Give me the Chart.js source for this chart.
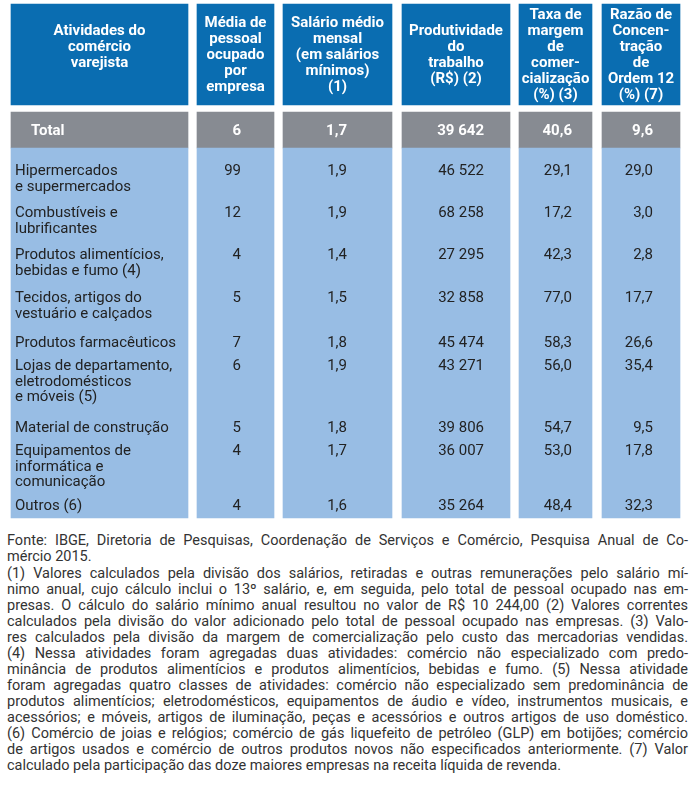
<!DOCTYPE html>
<html lang="pt-BR">
<head>
<meta charset="UTF-8">
<title>Comércio varejista 2015</title>
<script src="https://cdn.jsdelivr.net/npm/chart.js"></script>
<style>
    body { margin: 0; background: #fff; }
    #tabela { position: absolute; left: 0; top: 0; display: block; }
    .notas {
        position: absolute; left: 7px; top: 533px; width: 681px;
        font-family: Roboto, sans-serif; font-size: 14.5px; line-height: 16px; color: #333;
    }
    .notas p { margin: 0 0 1px 0; }
    .notas span { display: block; white-space: nowrap; text-align: justify; text-align-last: justify; }
    .notas span.fim { text-align-last: left; }
</style>
</head>
<body>
<canvas id="tabela" width="694" height="525"></canvas>

<div class="notas">
    <p>
        <span>Fonte: IBGE, Diretoria de Pesquisas, Coordenação de Serviços e Comércio, Pesquisa Anual de Co-</span>
        <span class="fim">mércio 2015.</span>
    </p>
    <p>
        <span>(1) Valores calculados pela divisão dos salários, retiradas e outras remunerações pelo salário mí-</span>
        <span>nimo anual, cujo cálculo inclui o 13º salário, e, em seguida, pelo total de pessoal ocupado nas em-</span>
        <span>presas. O cálculo do salário mínimo anual resultou no valor de R$ 10 244,00 (2) Valores correntes</span>
        <span>calculados pela divisão do valor adicionado pelo total de pessoal ocupado nas empresas. (3) Valo-</span>
        <span>res calculados pela divisão da margem de comercialização pelo custo das mercadorias vendidas.</span>
        <span>(4) Nessa atividades foram agregadas duas atividades: comércio não especializado com predo-</span>
        <span>minância de produtos alimentícios e produtos alimentícios, bebidas e fumo. (5) Nessa atividade</span>
        <span>foram agregadas quatro classes de atividades: comércio não especializado sem predominância de</span>
        <span>produtos alimentícios; eletrodomésticos, equipamentos de áudio e vídeo, instrumentos musicais, e</span>
        <span>acessórios; e móveis, artigos de iluminação, peças e acessórios e outros artigos de uso doméstico.</span>
        <span>(6) Comércio de joias e relógios; comércio de gás liquefeito de petróleo (GLP) em botijões; comércio</span>
        <span>de artigos usados e comércio de outros produtos novos não especificados anteriormente. (7) Valor</span>
        <span class="fim">calculado pela participação das doze maiores empresas na receita líquida de revenda.</span>
    </p>
</div>

<script>
    // Cabeçalhos das colunas (quebras de linha como no original)
    const cabecalhos = [
        "Atividades do\ncomércio\nvarejista\n",
        "Média de\npessoal\nocupado\npor\nempresa",
        "Salário médio\nmensal\n(em salários\nmínimos)\n(1)",
        "Produtividade\ndo\ntrabalho\n(R$) (2)",
        "Taxa de\nmargem\nde\ncomer-\ncialização\n(%) (3)",
        "Razão de\nConcen-\ntração\nde\nOrdem 12\n(%) (7)"
    ];

    const rotuloTotal = "Total";
    const totais = [6, 1.7, 39642, 40.6, 9.6];

    const atividades = [
        "Hipermercados\ne supermercados",
        "Combustíveis e\nlubrificantes",
        "Produtos alimentícios,\nbebidas e fumo (4)",
        "Tecidos, artigos do\nvestuário e calçados",
        "Produtos farmacêuticos",
        "Lojas de departamento,\neletrodomésticos\ne móveis (5)",
        "Material de construção",
        "Equipamentos de\ninformática e\ncomunicação",
        "Outros (6)"
    ];

    const pessoal       = [99, 12, 4, 5, 7, 6, 5, 4, 4];
    const salario       = [1.9, 1.9, 1.4, 1.5, 1.8, 1.9, 1.8, 1.7, 1.6];
    const produtividade = [46522, 68258, 27295, 32858, 45474, 43271, 39806, 36007, 35264];
    const margem        = [29.1, 17.2, 42.3, 77.0, 58.3, 56.0, 54.7, 53.0, 48.4];
    const concentracao  = [29.0, 3.0, 2.8, 17.7, 26.6, 35.4, 9.5, 17.8, 32.3];

    const colunasValores = [pessoal, salario, produtividade, margem, concentracao];
    const casasDecimais  = [0, 1, 0, 1, 1];

    // Layout (em pixels da escala)
    const bordasColunas = [[11, 188], [197, 274], [283, 392], [402, 510], [519, 592], [602, 680]];
    const faixas = [[4, 105], [112, 148], [148, 518]];   // cabeçalho, total, corpo
    const coresFaixas = ['#0a6db1', '#878b92', '#98bde4'];
    const alinhaDireita = [241, 347, 484, 572, 653];
    const linhasBase = [175, 217, 259, 302, 347, 370, 432, 455, 510];

    function formata(v, dec) {
        const s = v.toFixed(dec).replace('.', ',');
        return s.replace(/\B(?=(\d{3})+(?!\d))/g, ' ');
    }

    // uma coluna = um dataset; uma barra flutuante por faixa
    const datasets = bordasColunas.map(([a, b]) => ({
        data: faixas.map(f => ({ x: (a + b) / 2, y: f })),
        backgroundColor: coresFaixas,
        barThickness: b - a,
        grouped: false,
        borderWidth: 0
    }));

    const textoTabela = {
        id: 'textoTabela',
        afterDatasetsDraw(chart) {
            const { ctx, scales: { x, y } } = chart;
            ctx.save();

            // cabeçalho
            ctx.fillStyle = '#ffffff';
            ctx.font = 'bold 15px Roboto';
            ctx.textAlign = 'center';
            ctx.textBaseline = 'middle';
            const meioCab = (faixas[0][0] + faixas[0][1]) / 2 + 0.5;
            cabecalhos.forEach((txt, c) => {
                const linhas = txt.split('\n');
                const cx = x.getPixelForValue((bordasColunas[c][0] + bordasColunas[c][1]) / 2);
                linhas.forEach((ln, i) => {
                    ctx.fillText(ln, cx, y.getPixelForValue(meioCab + (i - (linhas.length - 1) / 2) * 16));
                });
            });

            // linha total
            ctx.font = 'bold 15px Roboto';
            const meioTotal = (faixas[1][0] + faixas[1][1]) / 2 + 1;
            ctx.textAlign = 'left';
            ctx.fillText(rotuloTotal, x.getPixelForValue(bordasColunas[0][0] + 20), y.getPixelForValue(meioTotal));
            ctx.textAlign = 'right';
            totais.forEach((v, c) => {
                ctx.fillText(formata(v, casasDecimais[c]), x.getPixelForValue(alinhaDireita[c]), y.getPixelForValue(meioTotal));
            });

            // corpo
            ctx.fillStyle = '#222222';
            ctx.font = '15px Roboto';
            ctx.textBaseline = 'alphabetic';
            atividades.forEach((txt, r) => {
                ctx.textAlign = 'left';
                txt.split('\n').forEach((ln, i) => {
                    ctx.fillText(ln, x.getPixelForValue(bordasColunas[0][0] + 4), y.getPixelForValue(linhasBase[r] + i * 15.5));
                });
                ctx.textAlign = 'right';
                colunasValores.forEach((col, c) => {
                    ctx.fillText(formata(col[r], casasDecimais[c]), x.getPixelForValue(alinhaDireita[c]), y.getPixelForValue(linhasBase[r]));
                });
            });

            ctx.restore();
        }
    };

    new Chart(document.getElementById('tabela'), {
        type: 'bar',
        data: { datasets: datasets },
        options: {
            responsive: false,
            animation: false,
            layout: { padding: 0 },
            plugins: { legend: { display: false }, tooltip: { enabled: false } },
            scales: {
                x: { type: 'linear', min: 0, max: 694, offset: false, grid: { offset: false }, display: false },
                y: { type: 'linear', min: 0, max: 525, reverse: true, stacked: false, display: false }
            }
        },
        plugins: [textoTabela]
    });
</script>
</body>
</html>
